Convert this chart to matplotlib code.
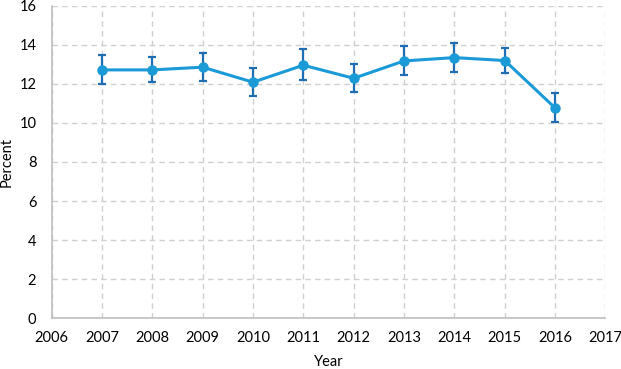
import matplotlib.pyplot as plt
import numpy as np

plt.rcParams['font.family'] = ['Lato', 'DejaVu Sans']

years = [2007, 2008, 2009, 2010, 2011, 2012, 2013, 2014, 2015, 2016]
percent = [12.72, 12.72, 12.86, 12.09, 12.96, 12.29, 13.18, 13.35, 13.20, 10.77]
upper = [13.49, 13.40, 13.57, 12.84, 13.78, 13.00, 13.95, 14.09, 13.85, 11.55]
lower = [11.98, 12.10, 12.14, 11.38, 12.19, 11.60, 12.45, 12.63, 12.55, 10.07]

y = np.array(percent)
yerr = [y - np.array(lower), np.array(upper) - y]

fig = plt.figure(figsize=(6.21, 3.69), dpi=100)
ax = fig.add_axes([0.083, 0.138, 0.892, 0.846])

ax.errorbar(years, percent, yerr=yerr, fmt='none', ecolor='#1f6db3',
            elinewidth=1.6, capsize=2.6, capthick=1.6, zorder=3)
ax.plot(years, percent, color='#1a9ad6', linewidth=2.2, marker='o',
        markersize=6.5, zorder=4)

ax.set_xlim(2006, 2017)
ax.set_ylim(0, 16)
ax.set_xticks(range(2006, 2018))
ax.set_yticks(range(0, 17, 2))
ax.grid(True, color='#d0d0d0', linestyle=(0, (4, 3)), linewidth=1)
ax.set_axisbelow(True)

for side in ['top', 'right']:
    ax.spines[side].set_visible(False)
for side in ['left', 'bottom']:
    ax.spines[side].set_color('#bfbfbf')
    ax.spines[side].set_linewidth(1.2)
ax.tick_params(length=0, labelsize=10.5, colors='#000000')
ax.tick_params(axis='x', pad=9)
ax.tick_params(axis='y', pad=11)

ax.set_xlabel('Year', fontsize=10.5, va='center')
ax.set_ylabel('Percent', fontsize=10.5, va='center')
ax.xaxis.set_label_coords(0.5, -0.141)
ax.yaxis.set_label_coords(-0.081, 0.5)

fig.savefig('out.png', dpi=100)
